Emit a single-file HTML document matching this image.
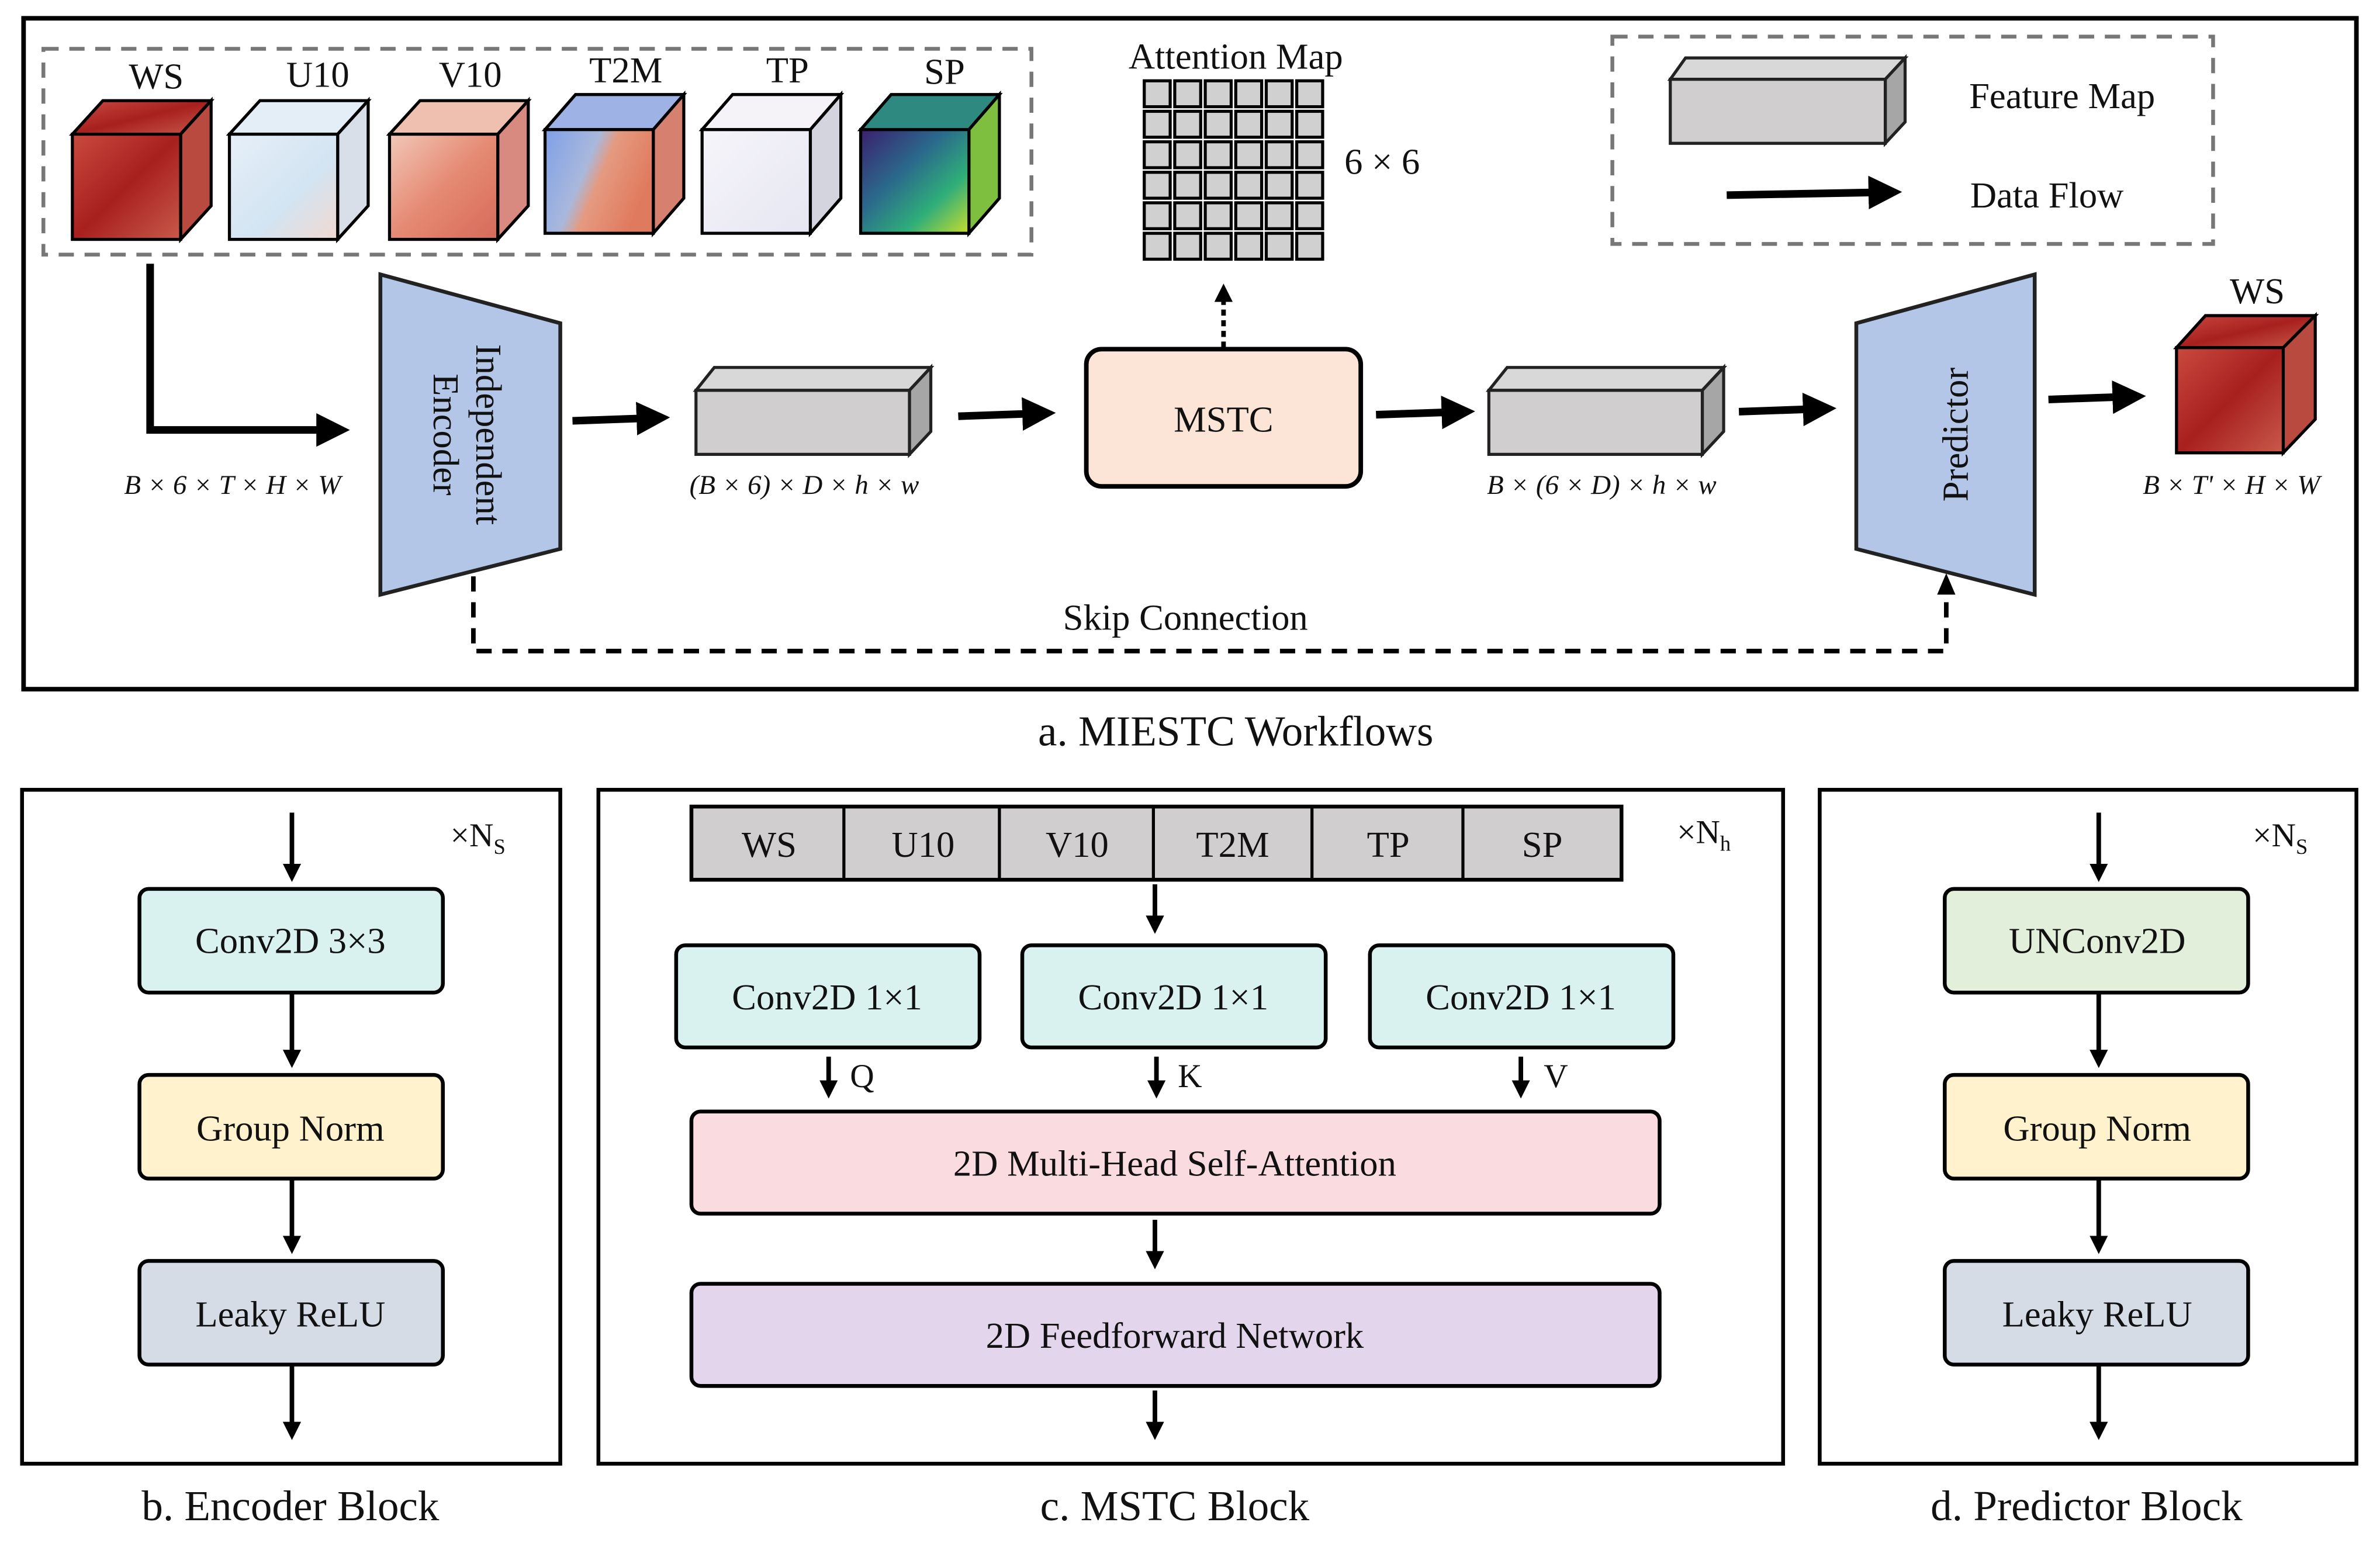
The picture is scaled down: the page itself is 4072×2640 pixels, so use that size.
<!DOCTYPE html>
<html><head><meta charset="utf-8"><style>html,body{margin:0;padding:0;background:#fff}svg{display:block}text{font-family:"Liberation Serif",serif;fill:#111}</style></head><body>
<svg width="4072" height="2640" viewBox="0 0 1560 1012" xmlns="http://www.w3.org/2000/svg">
<defs>
<marker id="ah" markerWidth="4.4" markerHeight="4.4" refX="3" refY="2.2" orient="auto" markerUnits="strokeWidth"><path d="M0,0 L4.4,2.2 L0,4.4 z" fill="#000"/></marker>
<marker id="ah2" markerWidth="4" markerHeight="4" refX="2.5" refY="2" orient="auto" markerUnits="strokeWidth"><path d="M0,0 L4,2 L0,4 z" fill="#000"/></marker>
<linearGradient id="gws" x1="0" y1="0" x2="1" y2="1"><stop offset="0" stop-color="#c94a3e"/><stop offset=".5" stop-color="#a8201f"/><stop offset="1" stop-color="#c85a4a"/></linearGradient>
<linearGradient id="gu" x1="0" y1="0" x2="1" y2="1"><stop offset="0" stop-color="#e6eff8"/><stop offset=".6" stop-color="#d3e4f2"/><stop offset="1" stop-color="#f1d9d0"/></linearGradient>
<linearGradient id="gv" x1="0" y1="0" x2="1" y2="1"><stop offset="0" stop-color="#f2c7b8"/><stop offset=".5" stop-color="#e58a73"/><stop offset="1" stop-color="#d76a5a"/></linearGradient>
<linearGradient id="gt" x1="0" y1="0" x2="1" y2="0.4"><stop offset="0" stop-color="#7ea0e8"/><stop offset=".45" stop-color="#a9b8dc"/><stop offset=".6" stop-color="#e59a80"/><stop offset="1" stop-color="#e07a5e"/></linearGradient>
<linearGradient id="gtp" x1="0" y1="0" x2="1" y2="1"><stop offset="0" stop-color="#f6f5fa"/><stop offset="1" stop-color="#e6e6f2"/></linearGradient>
<linearGradient id="gsp" x1="0" y1="0" x2="1" y2="1"><stop offset="0" stop-color="#3b1f6e"/><stop offset=".4" stop-color="#2b6a8c"/><stop offset=".7" stop-color="#2fae7a"/><stop offset="1" stop-color="#c8dd2a"/></linearGradient>
</defs>
<rect x="15" y="12" width="1530" height="440" fill="none" stroke="#000" stroke-width="3"/>
<rect x="28" y="32" width="648" height="135" fill="none" stroke="#777" stroke-width="2.5" stroke-dasharray="10,7"/>
<g stroke="#000" stroke-width="2">
<polygon points="47,88 67,66 138,66 118,88" fill="url(#gws)"/><polygon points="118,88 138,66 138,135 118,157" fill="#b84a40"/><rect x="47" y="88" width="71" height="69" fill="url(#gws)"/>
<polygon points="150,88 170,66 241,66 221,88" fill="#e4eef7"/><polygon points="221,88 241,66 241,135 221,157" fill="#d9dfe8"/><rect x="150" y="88" width="71" height="69" fill="url(#gu)"/>
<polygon points="255,88 275,66 346,66 326,88" fill="#efc0b0"/><polygon points="326,88 346,66 346,135 326,157" fill="#d98a80"/><rect x="255" y="88" width="71" height="69" fill="url(#gv)"/>
<polygon points="357,85 377,62 448,62 428,85" fill="#9fb2e6"/><polygon points="428,85 448,62 448,130 428,153" fill="#d68070"/><rect x="357" y="85" width="71" height="68" fill="url(#gt)"/>
<polygon points="460,85 480,62 551,62 531,85" fill="#f5f3f8"/><polygon points="531,85 551,62 551,130 531,153" fill="#d3d4de"/><rect x="460" y="85" width="71" height="68" fill="url(#gtp)"/>
<polygon points="564,85 584,62 655,62 635,85" fill="#2e8a80"/><polygon points="635,85 655,62 655,130 635,153" fill="#7fbf40"/><rect x="564" y="85" width="71" height="68" fill="url(#gsp)"/>
</g>
<g font-size="24" text-anchor="middle"><text x="102" y="58">WS</text><text x="208" y="57">U10</text><text x="308" y="57">V10</text><text x="410" y="54">T2M</text><text x="516" y="54">TP</text><text x="619" y="55">SP</text></g>
<text x="810" y="45" font-size="24" text-anchor="middle">Attention Map</text>
<g fill="#d0d0d0" stroke="#000" stroke-width="2">
<rect x="750" y="53" width="17" height="17"/><rect x="770" y="53" width="17" height="17"/><rect x="790" y="53" width="17" height="17"/><rect x="810" y="53" width="17" height="17"/><rect x="830" y="53" width="17" height="17"/><rect x="850" y="53" width="17" height="17"/>
<rect x="750" y="73" width="17" height="17"/><rect x="770" y="73" width="17" height="17"/><rect x="790" y="73" width="17" height="17"/><rect x="810" y="73" width="17" height="17"/><rect x="830" y="73" width="17" height="17"/><rect x="850" y="73" width="17" height="17"/>
<rect x="750" y="93" width="17" height="17"/><rect x="770" y="93" width="17" height="17"/><rect x="790" y="93" width="17" height="17"/><rect x="810" y="93" width="17" height="17"/><rect x="830" y="93" width="17" height="17"/><rect x="850" y="93" width="17" height="17"/>
<rect x="750" y="113" width="17" height="17"/><rect x="770" y="113" width="17" height="17"/><rect x="790" y="113" width="17" height="17"/><rect x="810" y="113" width="17" height="17"/><rect x="830" y="113" width="17" height="17"/><rect x="850" y="113" width="17" height="17"/>
<rect x="750" y="133" width="17" height="17"/><rect x="770" y="133" width="17" height="17"/><rect x="790" y="133" width="17" height="17"/><rect x="810" y="133" width="17" height="17"/><rect x="830" y="133" width="17" height="17"/><rect x="850" y="133" width="17" height="17"/>
<rect x="750" y="153" width="17" height="17"/><rect x="770" y="153" width="17" height="17"/><rect x="790" y="153" width="17" height="17"/><rect x="810" y="153" width="17" height="17"/><rect x="830" y="153" width="17" height="17"/><rect x="850" y="153" width="17" height="17"/>
</g>
<text x="906" y="114" font-size="24" text-anchor="middle">6 × 6</text>
<rect x="1057" y="24" width="394" height="136" fill="none" stroke="#777" stroke-width="2.5" stroke-dasharray="10,7"/>
<g stroke="#222" stroke-width="2"><polygon points="1095,52 1105,38 1249,38 1236,52" fill="#d8d8d8"/><polygon points="1236,52 1249,38 1249,80 1236,94" fill="#a6a6a6"/><rect x="1095" y="52" width="141" height="42" fill="#d0cece"/></g>
<text x="1352" y="71" font-size="24" text-anchor="middle">Feature Map</text>
<line x1="1132" y1="128" x2="1240" y2="126" stroke="#000" stroke-width="5" marker-end="url(#ah)"/>
<text x="1342" y="136" font-size="24" text-anchor="middle">Data Flow</text>
<polyline points="98,173 98,282 222,282" fill="none" stroke="#000" stroke-width="5" marker-end="url(#ah)"/>
<g font-size="18" font-style="italic" text-anchor="middle"><text x="152" y="324">B × 6 × T × H × W</text><text x="527" y="324">(B × 6) × D × h × w</text><text x="1050" y="324">B × (6 × D) × h × w</text><text x="1463" y="324">B × T' × H × W</text></g>
<polygon points="249,180 367,212 367,360 249,390" fill="#b4c6e7" stroke="#222" stroke-width="2.5"/>
<g transform="translate(308,285) rotate(90)" font-size="24" text-anchor="middle"><text x="0" y="-4">Independent</text><text x="0" y="24">Encoder</text></g>
<line x1="375" y1="276" x2="432" y2="274" stroke="#000" stroke-width="5" marker-end="url(#ah)"/>
<g stroke="#222" stroke-width="2"><polygon points="456,256 468,241 610,241 596,256" fill="#d8d8d8"/><polygon points="596,256 610,241 610,283 596,298" fill="#a6a6a6"/><rect x="456" y="256" width="140" height="42" fill="#d0cece"/></g>
<line x1="628" y1="273" x2="685" y2="271" stroke="#000" stroke-width="5" marker-end="url(#ah)"/>
<rect x="712" y="229" width="180" height="90" rx="10" fill="#fce4d6" stroke="#000" stroke-width="3"/>
<text x="802" y="283" font-size="24" text-anchor="middle">MSTC</text>
<line x1="802" y1="228" x2="802" y2="197" stroke="#000" stroke-width="3" stroke-dasharray="4,3"/>
<polygon points="796,198 808,198 802,186" fill="#000"/>
<line x1="902" y1="272" x2="960" y2="270" stroke="#000" stroke-width="5" marker-end="url(#ah)"/>
<g stroke="#222" stroke-width="2"><polygon points="976,256 988,241 1130,241 1116,256" fill="#d8d8d8"/><polygon points="1116,256 1130,241 1130,283 1116,298" fill="#a6a6a6"/><rect x="976" y="256" width="140" height="42" fill="#d0cece"/></g>
<line x1="1140" y1="270" x2="1197" y2="268" stroke="#000" stroke-width="5" marker-end="url(#ah)"/>
<polygon points="1217,212 1334,180 1334,390 1217,360" fill="#b4c6e7" stroke="#222" stroke-width="2.5"/>
<text transform="translate(1290,285) rotate(-90)" font-size="24" text-anchor="middle">Predictor</text>
<line x1="1343" y1="262" x2="1400" y2="260" stroke="#000" stroke-width="5" marker-end="url(#ah)"/>
<g stroke="#000" stroke-width="2"><polygon points="1427,228 1446,207 1518,207 1497,228" fill="url(#gws)"/><polygon points="1497,228 1518,207 1518,275 1497,297" fill="#b84a40"/><rect x="1427" y="228" width="70" height="69" fill="url(#gws)"/></g>
<text x="1480" y="199" font-size="24" text-anchor="middle">WS</text>
<polyline points="310,378 310,427 1276,427 1276,390" fill="none" stroke="#000" stroke-width="3" stroke-dasharray="10,7"/>
<polygon points="1270,390 1282,390 1276,376" fill="#000"/>
<text x="777" y="413" font-size="24" text-anchor="middle">Skip Connection</text>
<text x="810" y="489" font-size="28" text-anchor="middle">a. MIESTC Workflows</text>
<rect x="14" y="518" width="353" height="442" fill="none" stroke="#000" stroke-width="2.5"/>
<text x="313" y="555" font-size="22" text-anchor="middle">×N<tspan font-size="14" dy="5">S</tspan></text>
<g stroke="#000" stroke-width="3" marker-end="url(#ah2)"><line x1="191" y1="533" x2="191" y2="574"/><line x1="191" y1="651" x2="191" y2="696"/><line x1="191" y1="773" x2="191" y2="818"/><line x1="191" y1="895" x2="191" y2="940"/></g>
<g stroke="#000" stroke-width="2.5"><rect x="91" y="583" width="199" height="68" rx="6" fill="#d9f2f0"/><rect x="91" y="705" width="199" height="68" rx="6" fill="#fff2cc"/><rect x="91" y="827" width="199" height="68" rx="6" fill="#d6dce5"/></g>
<g font-size="24" text-anchor="middle"><text x="190" y="625">Conv2D 3×3</text><text x="190" y="748">Group Norm</text><text x="190" y="870">Leaky ReLU</text></g>
<text x="190" y="997" font-size="28" text-anchor="middle">b. Encoder Block</text>
<rect x="392" y="518" width="777" height="442" fill="none" stroke="#000" stroke-width="2.5"/>
<rect x="453" y="529" width="610" height="48" fill="#d0cece" stroke="#000" stroke-width="2.5"/>
<g stroke="#000" stroke-width="2"><line x1="553" y1="529" x2="553" y2="577"/><line x1="655" y1="529" x2="655" y2="577"/><line x1="756" y1="529" x2="756" y2="577"/><line x1="860" y1="529" x2="860" y2="577"/><line x1="959" y1="529" x2="959" y2="577"/></g>
<g font-size="24" text-anchor="middle"><text x="504" y="562">WS</text><text x="605" y="562">U10</text><text x="706" y="562">V10</text><text x="808" y="562">T2M</text><text x="910" y="562">TP</text><text x="1011" y="562">SP</text></g>
<text x="1117" y="553" font-size="22" text-anchor="middle">×N<tspan font-size="14" dy="5">h</tspan></text>
<g stroke="#000" stroke-width="3" marker-end="url(#ah2)"><line x1="757" y1="580" x2="757" y2="608"/><line x1="543" y1="693" x2="543" y2="716"/><line x1="758" y1="693" x2="758" y2="716"/><line x1="997" y1="693" x2="997" y2="716"/><line x1="757" y1="800" x2="757" y2="828"/><line x1="757" y1="912" x2="757" y2="940"/></g>
<g font-size="22"><text x="557" y="713">Q</text><text x="772" y="713">K</text><text x="1012" y="713">V</text></g>
<g stroke="#000" stroke-width="2.5"><rect x="443" y="620" width="199" height="67" rx="6" fill="#d9f2f0"/><rect x="670" y="620" width="199" height="67" rx="6" fill="#d9f2f0"/><rect x="898" y="620" width="199" height="67" rx="6" fill="#d9f2f0"/><rect x="453" y="729" width="635" height="67" rx="6" fill="#f9dbe0"/><rect x="453" y="842" width="635" height="67" rx="6" fill="#e2d5ec"/></g>
<g font-size="24" text-anchor="middle"><text x="542" y="662">Conv2D 1×1</text><text x="769" y="662">Conv2D 1×1</text><text x="997" y="662">Conv2D 1×1</text><text x="770" y="771">2D Multi-Head Self-Attention</text><text x="770" y="884">2D Feedforward Network</text></g>
<text x="770" y="997" font-size="28" text-anchor="middle">c. MSTC Block</text>
<rect x="1193" y="518" width="352" height="442" fill="none" stroke="#000" stroke-width="2.5"/>
<text x="1495" y="555" font-size="22" text-anchor="middle">×N<tspan font-size="14" dy="5">S</tspan></text>
<g stroke="#000" stroke-width="3" marker-end="url(#ah2)"><line x1="1376" y1="533" x2="1376" y2="574"/><line x1="1376" y1="651" x2="1376" y2="696"/><line x1="1376" y1="773" x2="1376" y2="818"/><line x1="1376" y1="895" x2="1376" y2="940"/></g>
<g stroke="#000" stroke-width="2.5"><rect x="1275" y="583" width="199" height="68" rx="6" fill="#e2efda"/><rect x="1275" y="705" width="199" height="68" rx="6" fill="#fff2cc"/><rect x="1275" y="827" width="199" height="68" rx="6" fill="#d6dce5"/></g>
<g font-size="24" text-anchor="middle"><text x="1375" y="625">UNConv2D</text><text x="1375" y="748">Group Norm</text><text x="1375" y="870">Leaky ReLU</text></g>
<text x="1368" y="997" font-size="28" text-anchor="middle">d. Predictor Block</text>
</svg>
</body></html>
